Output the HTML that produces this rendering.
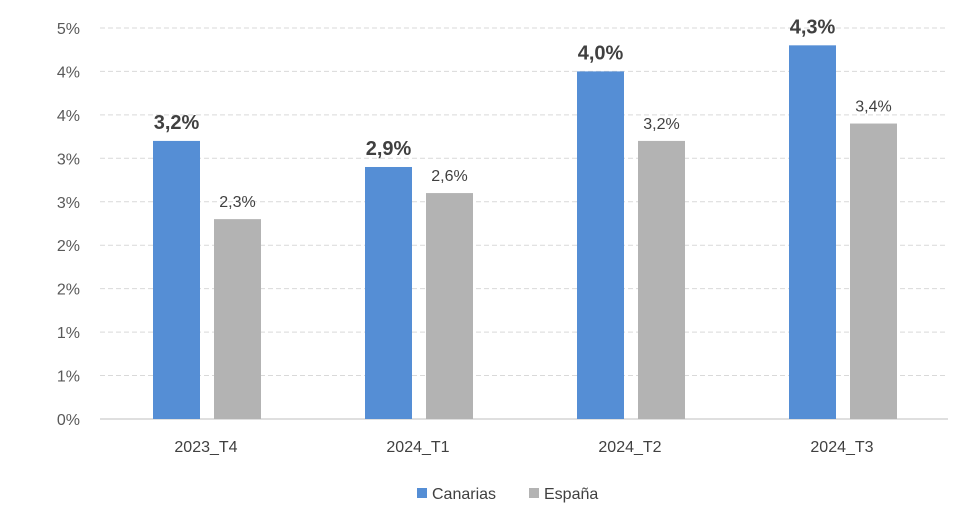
<!DOCTYPE html>
<html><head><meta charset="utf-8"><style>
body{margin:0;background:#fff;font-family:"Liberation Sans",sans-serif}
</style></head><body>
<svg id="chart" width="980" height="526" xmlns="http://www.w3.org/2000/svg" style="display:block">
<g id="grid"></g><g id="bars"></g><g id="labels"></g>
<g>
<rect x="417" y="488" width="10" height="10" fill="#558ed5"/>
<text x="432" y="499" font-size="16" fill="#404040">Canarias</text>
<rect x="529" y="488" width="10" height="10" fill="#b3b3b3"/>
<text x="544" y="499" font-size="16" fill="#404040">España</text>
</g>
</svg>
<script>
const categories=["2023_T4","2024_T1","2024_T2","2024_T3"];
const canarias=[3.2,2.9,4.0,4.3];
const espana=[2.3,2.6,3.2,3.4];
const ticks=[0,0.5,1,1.5,2,2.5,3,3.5,4,4.5];
const NS="http://www.w3.org/2000/svg";
const y=v=>419-v*86.9;
const x0=100,x1=948,step=(x1-x0)/categories.length;
const cx=i=>x0+step*(i+0.5);
function mk(tag,attrs,parent,text){const e=document.createElementNS(NS,tag);for(const k in attrs)e.setAttribute(k,attrs[k]);if(text!=null)e.textContent=text;document.getElementById(parent).appendChild(e);return e;}
ticks.forEach(t=>{
 const l=mk('line',{x1:x0,x2:x1,y1:y(t),y2:y(t),stroke:t===0?'#bfbfbf':'#d9d9d9','stroke-dasharray':t===0?'':'5,3','stroke-width':1},'grid');
 
 
 const tx=mk('text',{x:80,y:y(t)+6,'text-anchor':'end','font-size':16,fill:'#595959'},'grid',Math.round(t)+'%');
 
 
});
const fmt=v=>v.toFixed(1).replace('.',',')+'%';
categories.forEach((c,i)=>{
 const bx=cx(i)-53, gx=cx(i)+8;
 const b=mk('rect',{x:bx,y:y(canarias[i]),width:47,height:y(0)-y(canarias[i]),fill:'#558ed5'},'bars');
 
 
 const g=mk('rect',{x:gx,y:y(espana[i]),width:47,height:y(0)-y(espana[i]),fill:'#b3b3b3'},'bars');
 
 
 const l1=mk('text',{x:bx+23.5,y:y(canarias[i])-12,'text-anchor':'middle','font-size':20,'font-weight':'bold',fill:'#404040'},'labels',fmt(canarias[i]));
 
 
 const l2=mk('text',{x:gx+23.5,y:y(espana[i])-12,'text-anchor':'middle','font-size':16,fill:'#404040'},'labels',fmt(espana[i]));
 
 
 const cl=mk('text',{x:cx(i),y:452,'text-anchor':'middle','font-size':16,fill:'#404040'},'labels',c);
 
 
});
</script>
</body></html>
